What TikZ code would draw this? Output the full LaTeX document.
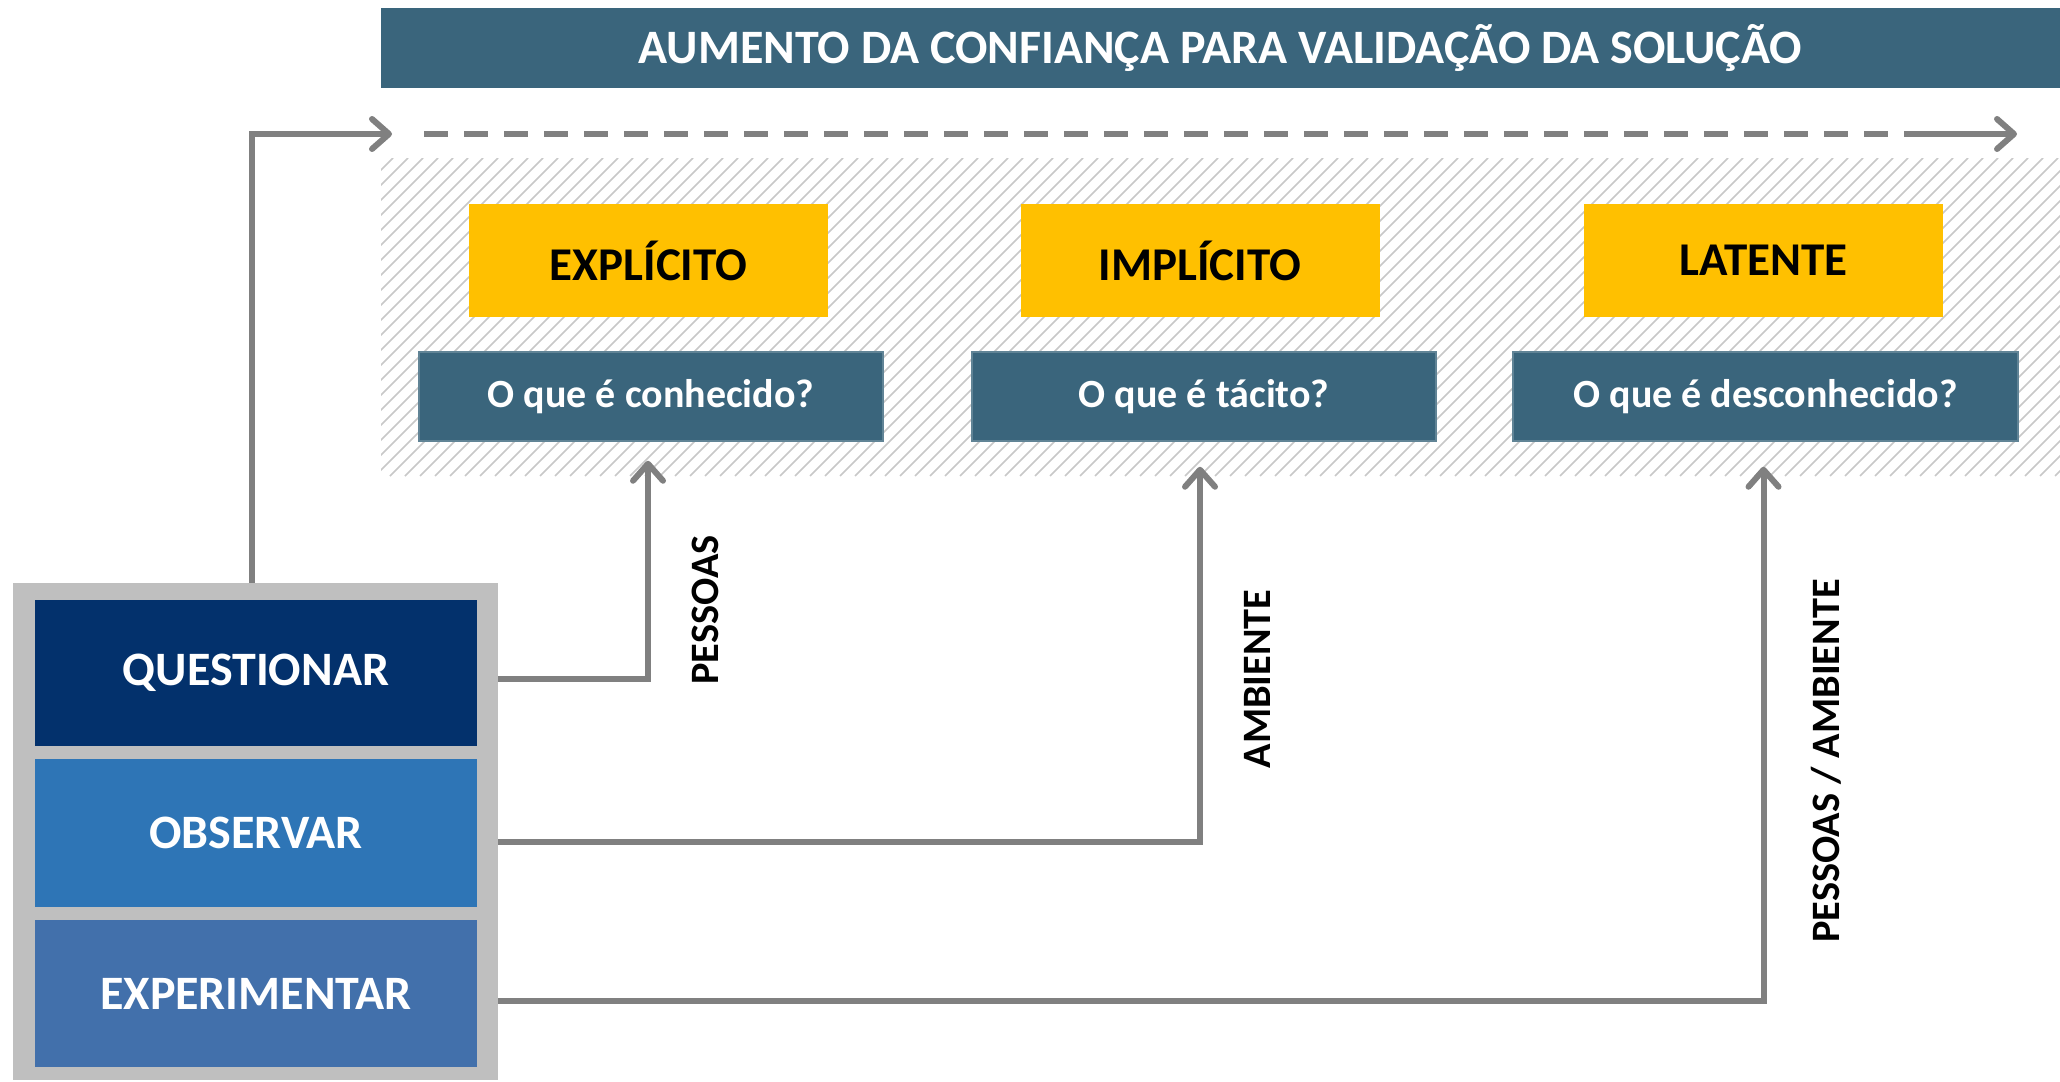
\documentclass[tikz,border=0pt]{standalone}
\usepackage{fontspec}
\setmainfont{Carlito}
\usetikzlibrary{arrows.meta}
\definecolor{cBanner}{HTML}{3A657C}
\definecolor{cYellow}{HTML}{FFC000}
\definecolor{cNavy}{HTML}{03316C}
\definecolor{cMid}{HTML}{2E75B6}
\definecolor{cExp}{HTML}{4270AB}
\definecolor{cFrame}{HTML}{BFBFBF}
\definecolor{cLine}{HTML}{808080}
\definecolor{cHatch}{HTML}{C8C8C8}
\tikzset{
  banner/.style={fill=cBanner, text=white, inner sep=0pt, font=\bfseries\fontsize{48}{52}\selectfont},
  ybox/.style={fill=cYellow, text=black, inner sep=0pt, minimum width=359pt, minimum height=113pt, font=\bfseries\fontsize{47}{50}\selectfont},
  tbox/.style={fill=cBanner, draw=cBanner!80!white, line width=1.5pt, text=white, inner sep=0pt, minimum height=89pt, font=\bfseries\fontsize{40}{44}\selectfont},
  lbox/.style={text=white, inner sep=0pt, minimum width=442pt, font=\bfseries\fontsize{48}{52}\selectfont},
  conn/.style={draw=cLine, line width=6pt, line join=miter},
  tip/.style={-{Straight Barb[length=17pt,width=30pt,round]}},
  vlabel/.style={rotate=90, text=black, font=\bfseries\fontsize{40.3}{44}\selectfont},
  hatch/.style={draw=cHatch, line width=1.5pt}
}
\begin{document}
\begin{tikzpicture}[x=1pt,y=-1pt]
\useasboundingbox (0,0) rectangle (2060,1081);
\fill[white] (0,0) rectangle (2060,1081);

% banner
\node[banner, minimum width=1679pt, minimum height=80pt] (ban) at (1220.5,48) {AUMENTO DA CONFIANÇA PARA VALIDAÇÃO DA SOLUÇÃO};

% hatched region
\begin{scope}
\clip (381,158) rectangle (2060,476);
\foreach \i in {0,...,140} {
  \draw[hatch] ({60+\i*15},476) -- ++(318,-318);
}
\end{scope}

% yellow boxes
\node[ybox] (y1) at (648.5,260.5) {EXPLÍCITO};
\node[ybox] (y2) at (1200,260.5) {IMPLÍCITO};
\node[ybox] (y3) at (1763.5,260.5) {LATENTE};

% teal boxes
\node[tbox, minimum width=464pt] (k1) at (651,396.5) {O que é conhecido?};
\node[tbox, minimum width=464pt] (k2) at (1204,396.5) {O que é tácito?};
\node[tbox, minimum width=505pt] (k3) at (1765.5,396.5) {O que é desconhecido?};

% left frame
\node[fill=cFrame, minimum width=485pt, minimum height=497pt, inner sep=0pt] (frame) at (255.5,831.5) {};
\node[lbox, fill=cNavy, minimum height=146pt] (q) at (256,673) {QUESTIONAR};
\node[lbox, fill=cMid, minimum height=148pt] (o) at (256,833) {OBSERVAR};
\node[lbox, fill=cExp, minimum height=147pt] (e) at (256,993.5) {EXPERIMENTAR};

% top arrow
\coordinate (tl) at (392,134);
\coordinate (ds) at (424,134);
\coordinate (de) at (1908,134);
\coordinate (tr) at (2017,134);
\draw[conn, tip] ([xshift=-3.5pt]frame.north) |- (tl);
\draw[conn, dash pattern=on 24pt off 16pt] (ds) -- (de);
\draw[conn, tip] ([xshift=-3pt]de) -- (tr);

% connectors
\draw[conn, tip] ([yshift=-6pt]q.east -| frame.east) -| ([xshift=-3pt,yshift=-19pt]k1.south);
\draw[conn, tip] ([yshift=-9pt]o.east -| frame.east) -| ([xshift=-4pt,yshift=-25pt]k2.south);
\draw[conn, tip] ([yshift=-7pt]e.east -| frame.east) -| ([xshift=-2pt,yshift=-25pt]k3.south);

% labels
\node[vlabel] (l1) at (705,610) {PESSOAS};
\node[vlabel] (l2) at (1257,679) {AMBIENTE};
\node[vlabel] (l3) at (1826,761) {PESSOAS / AMBIENTE};
\end{tikzpicture}
\end{document}
